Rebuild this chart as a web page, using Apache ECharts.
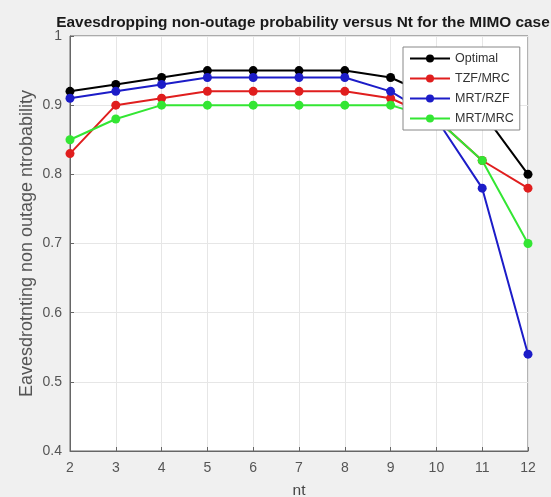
<!DOCTYPE html>
<html>
<head>
<meta charset="utf-8">
<script src="https://cdn.jsdelivr.net/npm/echarts@6/dist/echarts.min.js"></script>
<style>
  html, body { margin: 0; padding: 0; background: #f0f0f0; }
  #chart { width: 551px; height: 497px; }
</style>
</head>
<body>
<div id="chart"></div>
<script>
// Nt values on the x axis
var nt = [2, 3, 4, 5, 6, 7, 8, 9, 10, 11, 12];
// non-outage probability for each scheme
var optimal = [0.92, 0.93, 0.94, 0.95, 0.95, 0.95, 0.95, 0.94, 0.91, 0.89, 0.80];
var tzfMrc  = [0.83, 0.90, 0.91, 0.92, 0.92, 0.92, 0.92, 0.91, 0.88, 0.82, 0.78];
var mrtRzf  = [0.91, 0.92, 0.93, 0.94, 0.94, 0.94, 0.94, 0.92, 0.88, 0.78, 0.54];
var mrtMrc  = [0.85, 0.88, 0.90, 0.90, 0.90, 0.90, 0.90, 0.90, 0.88, 0.82, 0.70];
var names   = ['Optimal', 'TZF/MRC', 'MRT/RZF', 'MRT/MRC'];
var colors  = ['#000000', '#e01e1e', '#1c1cc8', '#33e633'];

function pairs(vals) {
  var out = [];
  for (var i = 0; i < nt.length; i++) {
    out.push([nt[i], vals[i]]);
  }
  return out;
}

var seriesVals = [optimal, tzfMrc, mrtRzf, mrtMrc];
var series = [];
for (var k = 0; k < names.length; k++) {
  series.push({
    name: names[k],
    type: 'line',
    data: pairs(seriesVals[k]),
    symbol: 'circle',
    symbolSize: 9,
    lineStyle: { width: 2, color: colors[k] },
    itemStyle: { color: colors[k] },
    z: 2
  });
}

var tickFont = { fontFamily: 'Liberation Sans', fontSize: 14, color: '#555' };

var option = {
  backgroundColor: '#f0f0f0',
  animation: false,
  title: {
    text: 'Eavesdropping non-outage probability versus Nt for the MIMO case',
    left: 298,
    textAlign: 'center',
    top: 10,
    textStyle: { fontFamily: 'Liberation Sans', fontSize: 15.4, fontWeight: 'bold', color: '#1a1a1a' }
  },
  legend: {
    data: names,
    orient: 'vertical',
    left: 403,
    top: 47,
    z: 20,
    backgroundColor: '#ffffff',
    borderColor: '#888',
    borderWidth: 1,
    padding: [5, 6, 5, 6],
    itemWidth: 40,
    itemHeight: 10,
    itemGap: 7,
    textStyle: { fontFamily: 'Liberation Sans', fontSize: 12.5, color: '#333' }
  },
  grid: {
    left: 70,
    right: 23,
    top: 36,
    bottom: 46,
    outerBoundsMode: 'none',
    show: true,
    backgroundColor: '#ffffff',
    borderColor: '#666',
    borderWidth: 1
  },
  xAxis: {
    type: 'value',
    min: 2,
    max: 12,
    interval: 1,
    name: 'nt',
    nameLocation: 'middle',
    nameGap: 32,
    nameTextStyle: { fontFamily: 'Liberation Sans', fontSize: 15.5, color: '#444' },
    axisLine: { show: true, lineStyle: { color: '#666' } },
    axisTick: { show: true, inside: true, length: 4, lineStyle: { color: '#666' } },
    axisLabel: Object.assign({ margin: 10 }, tickFont),
    splitLine: { show: true, lineStyle: { color: '#e6e6e6' } }
  },
  yAxis: {
    type: 'value',
    min: 0.4,
    max: 1,
    interval: 0.1,
    name: 'Eavesdrotnting non outage ntrobability',
    nameLocation: 'middle',
    nameGap: 34,
    nameMoveOverlap: false,
    nameTextStyle: { fontFamily: 'Liberation Sans', fontSize: 18, color: '#555' },
    axisLine: { show: true, lineStyle: { color: '#666' } },
    axisTick: { show: true, inside: true, length: 4, lineStyle: { color: '#666' } },
    axisLabel: Object.assign({
      margin: 8,
      formatter: function (v) { return Math.round(v * 10) / 10 + ''; }
    }, tickFont),
    splitLine: { show: true, lineStyle: { color: '#e6e6e6' } }
  },
  series: series
};

var myChart = echarts.init(document.getElementById('chart'));
myChart.setOption(option);
</script>
</body>
</html>
